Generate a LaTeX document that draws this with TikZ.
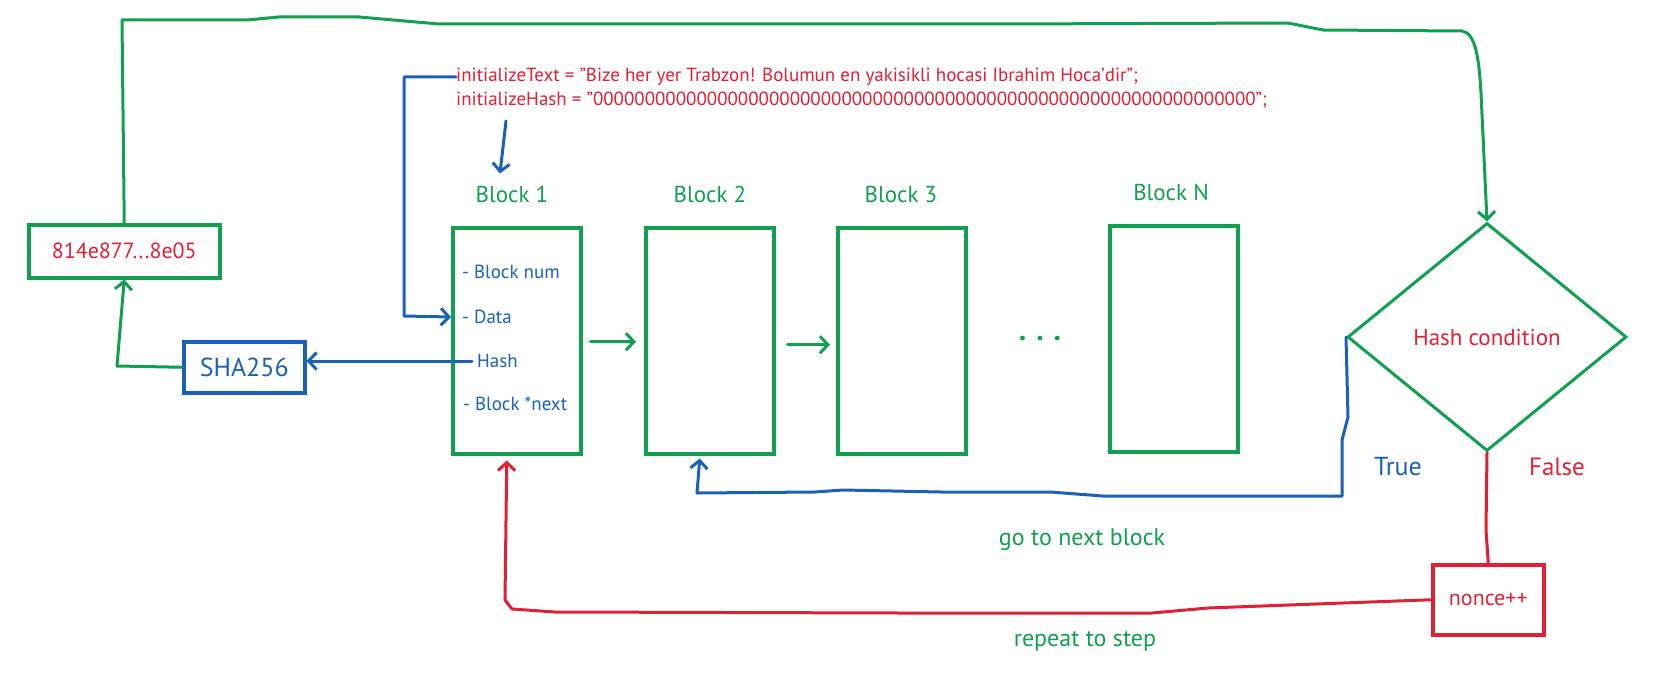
\documentclass[tikz,border=0pt]{standalone}
\usepackage{fontspec}
\setmainfont{PT Sans}
\usetikzlibrary{arrows.meta,shapes.geometric,calc}
\definecolor{G}{HTML}{10A050}
\definecolor{B}{HTML}{1A62B8}
\definecolor{R}{HTML}{E02035}
\newcommand{\fs}[1]{\fontsize{#1}{#1}\selectfont}
\tikzset{
  box/.style={draw=#1, line width=3.5pt, rectangle, inner sep=0pt, anchor=north west},
  conn/.style={draw=#1, line width=3pt, line join=round, line cap=round},
  arr/.style={conn=#1, -{Straight Barb[length=8pt,width=17pt,line width=3pt]}},
  lbl/.style={text=#1, inner sep=0pt},
}
\begin{document}
\begin{tikzpicture}[x=1pt,y=-1pt]
\useasboundingbox[fill=white] (0,0) rectangle (1665,682);

% hash result box and SHA
\node[box=G, minimum width=191, minimum height=53] (h) at (27,223) {};
\node[lbl=R, font=\fs{22}] at (h.center) {814e877...8e05};
\node[box=B, minimum width=121, minimum height=51] (sha) at (182,340) {};
\node[lbl=B, font=\fs{26}] at (sha.center) {SHA256};

% code text
\node[lbl=R, font=\fs{19}, anchor=west] (code1) at (456,77) {initializeText = "Bize her yer Trabzon! Bolumun en yakisikli hocasi Ibrahim Hoca'dir";};
\node[lbl=R, font=\fs{19}, anchor=west] (code2) at (456,100) {initializeHash = "0000000000000000000000000000000000000000000000000000000000000000";};

% blocks
\node[box=G, minimum width=128, minimum height=226] (b1) at (451,226) {};
\node[box=G, minimum width=128, minimum height=226] (b2) at (644,226) {};
\node[box=G, minimum width=128, minimum height=226] (b3) at (836,226) {};
\node[box=G, minimum width=128, minimum height=226] (bn) at (1108,224) {};
\node[lbl=G, font=\fs{23}] (l1) at (512,194) {Block 1};
\node[lbl=G, font=\fs{23}] (l2) at (710,194) {Block 2};
\node[lbl=G, font=\fs{23}] (l3) at (901,194) {Block 3};
\node[lbl=G, font=\fs{23}] (ln) at (1171,192) {Block N};
\node[lbl=G, font=\fs{30}\bfseries] (dots) at (1040,339) {.\,\,.\,\,.};

% block 1 fields
\node[lbl=B, font=\fs{19}, anchor=west] (f1) at (462,272) {- Block num};
\node[lbl=B, font=\fs{19}, anchor=west] (f2) at (462,317) {- Data};
\node[lbl=B, font=\fs{19}, anchor=west] (f3) at (477,361) {Hash};
\node[lbl=B, font=\fs{19}, anchor=west] (f4) at (463,404) {- Block *next};

% decision
\node[draw=G, line width=3pt, diamond, minimum width=279pt, minimum height=228pt, inner sep=0pt, text=R, font=\fs{23}] (d) at (1487,337) {Hash condition};
\node[box=R, minimum width=111, minimum height=70] (n) at (1431,563) {};
\node[lbl=R, font=\fs{22}] at (n.center) {nonce++};

\node[lbl=B, font=\fs{26}] (tl) at (1398,467) {True};
\node[lbl=R, font=\fs{25}] (fl) at (1557,467) {False};
\node[lbl=G, font=\fs{24}] (gl) at (1082,540) {go to next block};
\node[lbl=G, font=\fs{24}] (rl) at (1085,641) {repeat to step};

% connectors
\draw[arr=G] (h.north) -- (122,20) -- (247,20) -- (279,17) -- (359,17) -- (439,24) -- (1002,24) -- (1288,23) -- (1323,30) -- (1462,31)
  .. controls (1476,33) and (1479,60) .. (1481,93) -- (d.north);
\draw[arr=G] (sha.west) -- (117,366) -- (h.south);
\draw[arr=B] ($(f3.west)+(-5,0)$) -- (f3.west -| sha.east);
\draw[arr=B] (code1.west) -- (404,77) -- (404,316) -- (b1.west |- f2.west);
\coordinate (cs) at (506,121);
\draw[arr=B] (cs) -- ($(l1.north)+(-12,-12)$);
\draw[arr=G] ($(b1.east)+(8,1)$) -- ($(b2.west)+(-8,1)$);
\draw[arr=G] ($(b2.east)+(12,4)$) -- ($(b3.west)+(-6,4)$);
\draw[arr=B] (d.west) -- (1348,417) -- (1342,440) -- (1342,496) -- (1103,496) -- (1050,492) -- (941,492) -- (843,490) -- (815,492) -- (697,493) -- ($(b2.south)+(-10,3)$);
\draw[conn=R] (d.south) -- (1486,530) -- (n.north);
\draw[arr=R] (n.west) -- (1208,608) -- (1152,613) -- (899,613) -- (555,612) -- (512,609) -- (505,600) -- ($(b1.south)+(-10,5)$);
\end{tikzpicture}
\end{document}
